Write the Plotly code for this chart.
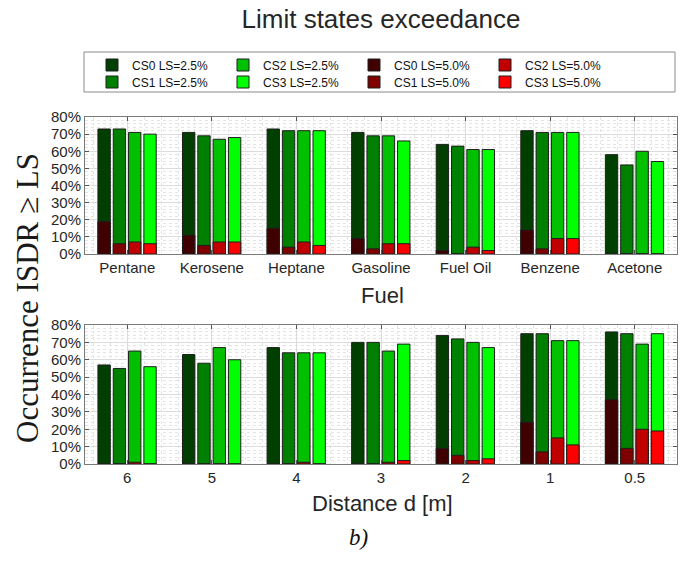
import plotly.graph_objects as go
from plotly.subplots import make_subplots

# ---------------- data ----------------
fuels = ["Pentane", "Kerosene", "Heptane", "Gasoline", "Fuel Oil", "Benzene", "Acetone"]
distances = ["6", "5", "4", "3", "2", "1", "0.5"]

# Top panel (Fuel) - occurrence [%]
fuel_cs0_ls25 = [73, 71, 73, 71, 64, 72, 58]
fuel_cs1_ls25 = [73, 69, 72, 69, 63, 71, 52]
fuel_cs2_ls25 = [71, 67, 72, 69, 61, 71, 60]
fuel_cs3_ls25 = [70, 68, 72, 66, 61, 71, 54]
fuel_cs0_ls50 = [19, 11, 15, 9, 2, 14, 0]
fuel_cs1_ls50 = [6, 5, 4, 3, 0, 3, 0]
fuel_cs2_ls50 = [7, 7, 7, 6, 4, 9, 0]
fuel_cs3_ls50 = [6, 7, 5, 6, 2, 9, 0]

# Bottom panel (Distance) - occurrence [%]
dist_cs0_ls25 = [57, 63, 67, 70, 74, 75, 76]
dist_cs1_ls25 = [55, 58, 64, 70, 72, 75, 75]
dist_cs2_ls25 = [65, 67, 64, 65, 70, 71, 69]
dist_cs3_ls25 = [56, 60, 64, 69, 67, 71, 75]
dist_cs0_ls50 = [0, 0, 0, 0, 9, 24, 37]
dist_cs1_ls50 = [0, 0, 0, 0, 5, 7, 9]
dist_cs2_ls50 = [1, 0, 1, 1, 2, 15, 20]
dist_cs3_ls50 = [0, 0, 0, 2, 3, 11, 19]

y_ticks = [0, 10, 20, 30, 40, 50, 60, 70, 80]
y_tick_labels = [f"{v}%" for v in y_ticks]

series_names = ["CS0 LS=2.5%", "CS1 LS=2.5%", "CS2 LS=2.5%", "CS3 LS=2.5%",
                "CS0 LS=5.0%", "CS1 LS=5.0%", "CS2 LS=5.0%", "CS3 LS=5.0%"]
colors = ["#003f00", "#008000", "#00c000", "#00ff00",
          "#400000", "#800000", "#c00000", "#ff0000"]
# legend layout (MATLAB column-major, 4 columns x 2 rows)
legend_row = ["legend", "legend2", "legend", "legend2",
              "legend", "legend2", "legend", "legend2"]
legend_rank = [1, 1, 2, 2, 3, 3, 4, 4]

fuel_series = [fuel_cs0_ls25, fuel_cs1_ls25, fuel_cs2_ls25, fuel_cs3_ls25,
               fuel_cs0_ls50, fuel_cs1_ls50, fuel_cs2_ls50, fuel_cs3_ls50]
dist_series = [dist_cs0_ls25, dist_cs1_ls25, dist_cs2_ls25, dist_cs3_ls25,
               dist_cs0_ls50, dist_cs1_ls50, dist_cs2_ls50, dist_cs3_ls50]

# ---------------- figure ----------------
W, H = 683, 563
fig = make_subplots(rows=2, cols=1)

bar_w = 0.146
pitch = 0.181
first = -0.347

def add_panel(series, cats, row, show):
    xs = list(range(len(cats)))
    for k, (vals, name, col) in enumerate(zip(series, series_names, colors)):
        cs = k % 4
        fig.add_trace(go.Bar(
            x=xs, y=vals, name=name, legendgroup=name, showlegend=show,
            legend=legend_row[k], legendrank=legend_rank[k],
            marker=dict(color=col, line=dict(color="#1e1e1e", width=1)),
            width=bar_w, offset=first + cs * pitch,
            hovertemplate=name + ": %{y}%<extra></extra>",
        ), row=row, col=1)

add_panel(fuel_series, fuels, 1, True)
add_panel(dist_series, distances, 2, False)

xdom = [85 / W, 677 / W]
top_dom = [1 - 254 / H, 1 - 117 / H]
bot_dom = [1 - 464 / H, 1 - 325 / H]

axis_font = dict(family="Liberation Sans, Arial", size=15, color="#262626")
common_axis = dict(showline=True, linecolor="#7a7a7a", linewidth=1, mirror="ticks",
                   ticks="inside", ticklen=4, tickcolor="#555555",
                   tickfont=axis_font, zeroline=False, automargin=False,
                   showgrid=True, gridcolor="#dcdcdc", gridwidth=1)

for i, (cats, dom) in enumerate([(fuels, top_dom), (distances, bot_dom)], start=1):
    xs = list(range(len(cats)))
    fig.update_xaxes(common_axis, row=i, col=1, domain=xdom, range=[-0.5, len(cats) - 0.5],
                     tickmode="array", tickvals=xs, ticktext=cats,
                     minor=dict(tick0=0, dtick=0.2, showgrid=True, gridcolor="#e4e4e4",
                                griddash="dot", ticks=""))
    fig.update_yaxes(common_axis, row=i, col=1, domain=dom, range=[0, 80],
                     tickmode="array", tickvals=y_ticks, ticktext=y_tick_labels,
                     minor=dict(tick0=0, dtick=2, showgrid=True, gridcolor="#e4e4e4",
                                griddash="dot", ticks=""))

title_font = dict(family="Liberation Sans, Arial", size=22, color="#262626")
fig.add_annotation(text="Fuel", xref="paper", yref="paper", x=382 / W, y=1 - 295 / H,
                   showarrow=False, font=title_font, xanchor="center", yanchor="middle")
fig.add_annotation(text="Distance d [m]", xref="paper", yref="paper", x=382 / W, y=1 - 503 / H,
                   showarrow=False, font=title_font, xanchor="center", yanchor="middle")
fig.add_annotation(text="Occurrence ISDR ≥ LS", xref="paper", yref="paper",
                   x=27 / W, y=1 - 298 / H, textangle=-90, showarrow=False,
                   font=dict(family="Liberation Serif, Times New Roman", size=31, color="#1a1a1a"),
                   xanchor="center", yanchor="middle")
fig.add_annotation(text="<i>b)</i>", xref="paper", yref="paper", x=358 / W, y=1 - 537 / H,
                   showarrow=False,
                   font=dict(family="Liberation Serif, Times New Roman", size=23, color="#111111"),
                   xanchor="center", yanchor="middle")

# legend frame
fig.add_shape(type="rect", xref="paper", yref="paper",
              x0=84 / W, x1=675 / W, y0=1 - 92 / H, y1=1 - 52 / H,
              line=dict(color="#8a8a8a", width=1), fillcolor="white", layer="above")

leg_common = dict(orientation="h", xanchor="left", yanchor="middle",
                  bgcolor="rgba(0,0,0,0)", borderwidth=0,
                  font=dict(family="Liberation Sans, Arial", size=12, color="#111111"),
                  entrywidth=86, entrywidthmode="pixels", tracegroupgap=0,
                  traceorder="normal")

fig.update_layout(
    width=W, height=H, autosize=False,
    margin=dict(l=0, r=0, t=0, b=0, pad=0, autoexpand=False),
    paper_bgcolor="white", plot_bgcolor="white",
    barmode="overlay",
    title=dict(text="Limit states exceedance", x=381 / W, xanchor="center",
               y=1 - 19 / H, yanchor="middle",
               font=dict(family="Liberation Sans, Arial", size=26, color="#262626")),
    legend=dict(leg_common, x=92 / W, y=1 - 65 / H),
    legend2=dict(leg_common, x=92 / W, y=1 - 82 / H),
    showlegend=True,
)

fig.write_html("out.html")
